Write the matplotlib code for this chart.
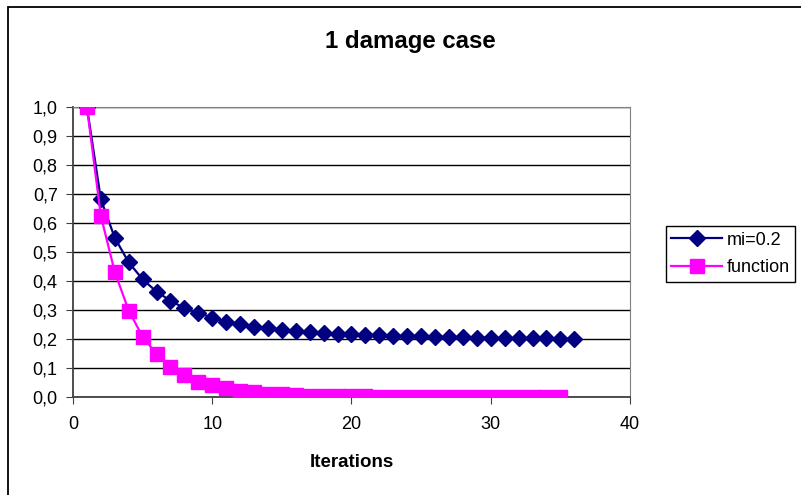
import matplotlib.pyplot as plt
from matplotlib.patches import Rectangle
from matplotlib.ticker import FuncFormatter

plt.rcParams['font.family'] = ['Liberation Sans', 'DejaVu Sans']

# values
iterMi = list(range(1, 37))
mi = [1.0, 0.682, 0.549, 0.464, 0.406, 0.363, 0.332, 0.306, 0.289, 0.274,
      0.260, 0.250, 0.243, 0.237, 0.232, 0.228, 0.224, 0.221, 0.218, 0.216,
      0.214, 0.212, 0.211, 0.210, 0.209, 0.208, 0.207, 0.206, 0.205, 0.204,
      0.203, 0.203, 0.202, 0.202, 0.201, 0.201]

iterFunc = list(range(1, 36))
func = [1.0, 0.625, 0.431, 0.298, 0.208, 0.148, 0.105, 0.076, 0.053, 0.040,
        0.030, 0.022, 0.016, 0.012, 0.009, 0.007, 0.005, 0.004, 0.003, 0.002,
        0.002, 0.001, 0.001, 0.001, 0.001, 0.0, 0.0, 0.0, 0.0, 0.0,
        0.0, 0.0, 0.0, 0.0, 0.0]

fig = plt.figure(figsize=(8.01, 4.95), dpi=100)
ax = fig.add_axes([0.0911, 0.198, 0.6954, 0.586])

ax.plot(iterMi, mi, color='#000080', marker='D', markersize=8,
        linewidth=1.6, label='mi=0.2', zorder=3)
ax.plot(iterFunc, func, color='#FF00FF', marker='s', markersize=10.5,
        linewidth=1.6, label='function', zorder=3)

ax.set_xlim(0, 40)
ax.set_ylim(0, 1.0)
ax.set_xticks([0, 10, 20, 30, 40])
ax.set_yticks([i / 10 for i in range(11)])
ax.yaxis.set_major_formatter(FuncFormatter(lambda v, p: f'{v:.1f}'.replace('.', ',')))
ax.tick_params(direction='out', length=5, labelsize=13, color='#404040')
ax.tick_params(axis='x', pad=9)
ax.tick_params(axis='y', pad=6)
ax.yaxis.grid(True, color='black', linewidth=1)
ax.set_axisbelow(True)

for side in ['top', 'right']:
    ax.spines[side].set_color('#808080')
for side in ['left', 'bottom']:
    ax.spines[side].set_color('#404040')
    ax.spines[side].set_linewidth(1.3)

fig.text(0.512, 0.903, '1 damage case', fontsize=17.3, fontweight='bold',
         ha='center', va='baseline')
fig.text(0.4395, 0.0566, 'Iterations', fontsize=13.5, fontweight='bold',
         ha='center', va='baseline')

leg = ax.legend(loc='center left', bbox_to_anchor=(1.0646, 0.493), fontsize=13,
                fancybox=False, edgecolor='black', framealpha=1,
                borderpad=0.3, handlelength=2.8, labelspacing=0.6,
                handletextpad=0.25, borderaxespad=0)
leg.get_frame().set_linewidth(1)

fig.patches.append(Rectangle((0.01, -0.1), 1.2, 1.086, transform=fig.transFigure,
                             fill=False, edgecolor='black', linewidth=1.3))

plt.savefig('out.png', dpi=100)
